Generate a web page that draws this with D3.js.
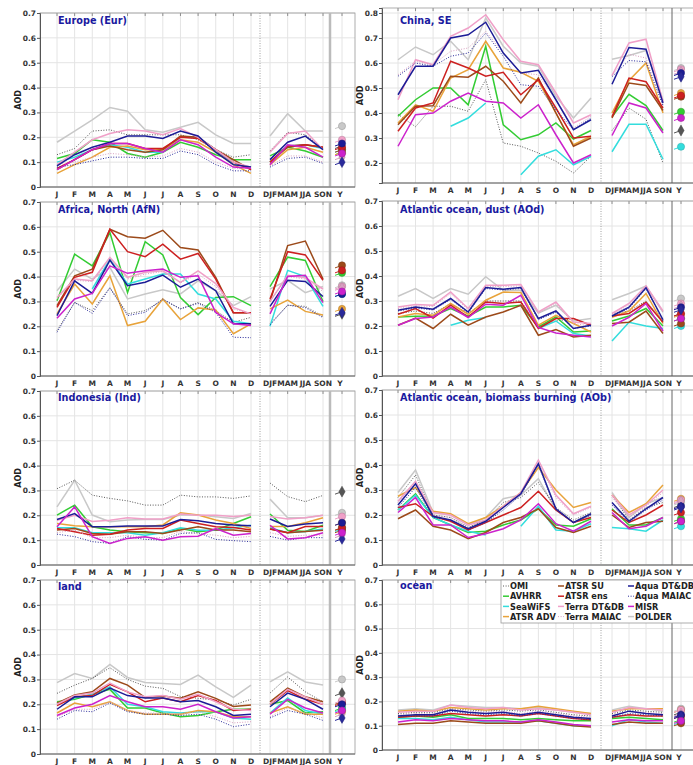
<!DOCTYPE html>
<html>
<head>
<meta charset="utf-8">
<script src="https://cdn.jsdelivr.net/npm/d3@7"></script>
<style>
  body { margin: 0; background: #fff; }
  svg text { font-family: "DejaVu Sans", sans-serif; font-weight: bold; }
</style>
</head>
<body>
<div id="chart"></div>
<script>
var months = ["J","F","M","A","M","J","J","A","S","O","N","D"];
var seasons = ["DJF","MAM","JJA","SON"];
var seriesNames = ["OMI","AVHRR","SeaWiFS","ATSR ADV","ATSR SU","ATSR ens",
  "Terra DT&DB","Terra MAIAC","Aqua DT&DB","Aqua MAIAC","MISR","POLDER"];
var seriesColors = ["#555555","#33cc33","#33dddd","#e8a33a","#9c4a1a","#cc2020",
  "#f0a0c8","#d8a0c0","#1c1c96","#2a2a9a","#cc22cc","#c8c8c8"];
var dottedSeries = ["OMI","Terra MAIAC","Aqua MAIAC"];

// rows follow seriesNames order
var eurMonthly = [
  [0.13,0.155,0.225,0.23,0.21,0.21,0.21,0.21,0.19,0.15,0.12,0.13],
  [0.115,0.135,0.19,0.18,0.135,0.12,0.14,0.18,0.16,0.13,0.11,0.11],
  [0.1,0.12,0.15,0.17,0.16,0.14,0.14,0.2,0.2,0.15,0.09,0.08],
  [0.055,0.09,0.12,0.16,0.165,0.15,0.15,0.19,0.18,0.14,0.09,0.055],
  [0.07,0.11,0.15,0.165,0.15,0.14,0.15,0.205,0.2,0.15,0.11,0.07],
  [0.075,0.11,0.15,0.175,0.175,0.155,0.155,0.2,0.195,0.15,0.1,0.07],
  [0.09,0.14,0.19,0.215,0.23,0.225,0.21,0.235,0.2,0.15,0.1,0.08],
  [0.09,0.1,0.12,0.135,0.13,0.12,0.125,0.155,0.14,0.1,0.075,0.075],
  [0.085,0.13,0.16,0.18,0.205,0.205,0.195,0.225,0.205,0.14,0.09,0.08],
  [0.08,0.09,0.105,0.12,0.12,0.115,0.115,0.145,0.13,0.09,0.065,0.065],
  [0.07,0.11,0.15,0.175,0.175,0.155,0.14,0.19,0.17,0.12,0.08,0.075],
  [0.18,0.225,0.27,0.32,0.305,0.23,0.22,0.24,0.26,0.21,0.175,0.175]
];
var eurSeasonal = [
  [0.145,0.22,0.21,0.155],[0.125,0.16,0.145,0.12],[0.1,0.165,0.17,0.155],
  [0.09,0.15,0.16,0.14],[0.1,0.16,0.17,0.16],[0.1,0.165,0.17,0.16],
  [0.14,0.215,0.225,0.15],[0.085,0.125,0.125,0.1],[0.11,0.18,0.205,0.15],
  [0.08,0.115,0.12,0.095],[0.09,0.17,0.16,0.12],[0.205,0.295,0.225,0.225]
];
var eurAnnual = [0.165,0.14,0.15,0.14,0.15,0.16,0.19,0.12,0.175,0.1,0.135,0.245];

var chnMonthly = [
  [0.395,0.345,0.427,0.427,0.407,0.533,0.28,0.267,0.24,0.207,0.16,0.227],
  [0.387,0.453,0.5,0.5,0.433,0.667,0.353,0.293,0.313,0.36,0.296,0.33],
  [null,null,null,0.347,0.38,0.44,null,0.153,0.227,0.253,0.193,0.227],
  [0.36,0.433,0.407,0.54,0.573,0.687,0.58,0.563,0.527,0.4,0.273,0.307],
  [0.353,0.427,0.429,0.547,0.543,0.587,0.527,0.44,0.54,0.4,0.267,0.3],
  [0.327,0.42,0.44,0.607,0.58,0.547,0.563,0.473,0.533,0.42,0.3,0.307],
  [0.453,0.613,0.593,0.707,0.74,0.793,0.693,0.607,0.593,0.48,0.36,0.393],
  [0.553,0.607,0.593,0.647,0.66,0.727,0.64,0.56,0.553,0.453,0.34,0.387],
  [0.473,0.587,0.587,0.7,0.713,0.763,0.64,0.56,0.571,0.453,0.333,0.373],
  [0.547,0.6,0.587,0.627,0.64,0.72,0.627,0.513,0.507,0.413,0.333,0.38],
  [0.267,0.393,0.4,0.447,0.48,0.447,0.44,0.38,0.433,0.313,0.2,0.233],
  [0.613,0.664,0.633,0.687,0.613,0.78,0.667,0.6,0.587,0.467,0.38,0.46]
];
var chnSeasonal = [
  [0.33,0.42,0.375,0.2],[0.385,0.475,0.43,0.33],[0.245,0.355,0.355,0.215],
  [0.4,0.53,0.6,0.4],[0.38,0.52,0.51,0.41],[0.385,0.54,0.525,0.42],
  [0.55,0.68,0.695,0.445],[0.55,0.635,0.62,0.43],[0.515,0.662,0.655,0.44],
  [0.545,0.61,0.605,0.43],[0.31,0.44,0.42,0.32],[0.615,0.63,0.65,0.45]
];
var chnAnnual = [0.33,0.405,0.265,0.48,0.465,0.47,0.575,0.565,0.56,0.545,0.38,0.58];

var afnMonthly = [
  [0.183,0.296,0.263,0.356,0.25,0.263,0.306,0.27,0.296,0.263,0.216,0.236],
  [0.303,0.49,0.443,0.577,0.336,0.54,0.487,0.316,0.247,0.316,0.319,0.283],
  [null,null,0.35,0.47,0.37,0.39,0.41,0.41,0.33,0.31,0.22,0.21],
  [0.25,0.37,0.29,0.403,0.203,0.22,0.31,0.227,0.274,0.266,0.17,0.21],
  [0.283,0.403,0.43,0.59,0.56,0.554,0.586,0.517,0.507,0.397,0.254,0.254],
  [0.276,0.397,0.417,0.59,0.5,0.48,0.53,0.47,0.493,0.39,0.254,0.254],
  [0.316,0.39,0.383,0.477,0.397,0.417,0.423,0.377,0.423,0.372,0.276,0.25],
  [0.31,0.385,0.38,0.47,0.39,0.41,0.42,0.375,0.41,0.36,0.27,0.25],
  [0.243,0.383,0.332,0.466,0.363,0.377,0.406,0.357,0.39,0.343,0.21,0.21],
  [0.176,0.296,0.252,0.354,0.243,0.256,0.31,0.27,0.292,0.256,0.156,0.154],
  [0.232,0.31,0.332,0.443,0.413,0.423,0.43,0.397,0.403,0.256,0.21,0.203],
  [0.343,0.43,0.39,0.437,0.31,0.33,0.347,0.33,0.383,0.343,0.283,0.319]
];
var afnSeasonal = [
  [0.21,0.285,0.28,0.24],[0.36,0.478,0.465,0.3],[0.2,0.425,0.4,0.28],
  [0.27,0.305,0.26,0.245],[0.3,0.525,0.543,0.39],[0.31,0.5,0.487,0.385],
  [0.3,0.405,0.395,0.35],[0.3,0.4,0.39,0.34],[0.28,0.385,0.38,0.32],
  [0.205,0.285,0.275,0.235],[0.25,0.4,0.405,0.295],[0.35,0.385,0.335,0.36]
];
var afnAnnual = [0.25,0.415,0.33,0.27,0.445,0.425,0.36,0.355,0.33,0.255,0.34,0.365];

var aodMonthly = [
  [0.25,0.26,0.25,0.29,0.25,0.3,0.3,0.3,0.2,0.22,0.23,0.2],
  [0.236,0.239,0.24,0.27,0.239,0.276,0.276,0.283,0.196,0.236,0.176,0.18],
  [null,null,null,0.203,0.223,0.234,null,null,0.19,0.22,0.17,0.16],
  [0.236,0.25,0.243,0.29,0.247,0.303,0.336,0.334,0.203,0.243,0.21,0.176],
  [0.203,0.232,0.19,0.247,0.203,0.236,0.256,0.283,0.163,0.186,0.156,0.163],
  [0.247,0.27,0.232,0.283,0.236,0.296,0.29,0.296,0.19,0.23,0.23,0.203],
  [0.276,0.286,0.283,0.336,0.27,0.363,0.363,0.366,0.256,0.296,0.216,0.21],
  [0.27,0.28,0.278,0.33,0.265,0.358,0.358,0.36,0.25,0.29,0.21,0.2],
  [0.263,0.276,0.267,0.31,0.256,0.354,0.347,0.354,0.23,0.26,0.19,0.203],
  [0.26,0.272,0.264,0.306,0.252,0.35,0.344,0.35,0.225,0.255,0.19,0.2],
  [0.203,0.23,0.236,0.276,0.234,0.287,0.283,0.323,0.194,0.172,0.163,0.156],
  [0.319,0.35,0.31,0.35,0.327,0.397,0.343,0.343,0.252,0.283,0.22,0.23]
];
var aodSeasonal = [
  [0.25,0.26,0.3,0.22],[0.22,0.24,0.27,0.2],[0.14,0.215,0.2,0.19],
  [0.235,0.26,0.33,0.21],[0.21,0.215,0.26,0.17],[0.24,0.25,0.295,0.215],
  [0.25,0.29,0.36,0.26],[0.245,0.285,0.355,0.255],[0.24,0.275,0.353,0.225],
  [0.238,0.27,0.35,0.22],[0.2,0.235,0.29,0.18],[0.305,0.33,0.36,0.255]
];
var aodAnnual = [0.25,0.23,0.2,0.245,0.21,0.25,0.29,0.28,0.275,0.265,0.23,0.31];

var indMonthly = [
  [0.307,0.341,0.281,0.268,0.258,0.241,0.241,0.281,0.274,0.274,0.268,0.278],
  [0.201,0.241,0.154,0.141,0.134,0.13,0.127,0.147,0.134,0.141,0.167,0.194],
  [0.15,0.15,0.13,0.13,0.13,0.12,0.13,0.15,0.14,0.14,0.15,0.16],
  [0.167,0.158,0.154,0.154,0.154,0.154,0.161,0.21,0.201,0.181,0.167,0.147],
  [0.141,0.147,0.127,0.124,0.134,0.134,0.127,0.141,0.154,0.141,0.141,0.134],
  [0.147,0.134,0.12,0.124,0.141,0.147,0.147,0.181,0.167,0.154,0.151,0.141],
  [0.18,0.2,0.175,0.18,0.19,0.185,0.185,0.205,0.2,0.2,0.195,0.2],
  [0.13,0.14,0.11,0.11,0.12,0.11,0.11,0.135,0.125,0.12,0.11,0.115],
  [0.183,0.207,0.154,0.154,0.157,0.157,0.157,0.183,0.178,0.167,0.161,0.158],
  [0.124,0.114,0.094,0.087,0.114,0.103,0.1,0.127,0.13,0.103,0.098,0.094],
  [0.154,0.234,0.114,0.087,0.107,0.114,0.1,0.114,0.116,0.147,0.12,0.127],
  [0.234,0.341,0.201,0.174,0.181,0.183,0.183,0.201,0.201,0.194,0.187,0.207]
];
var indSeasonal = [
  [0.33,0.275,0.255,0.28],[0.205,0.14,0.135,0.16],[0.15,0.13,0.135,0.145],
  [0.155,0.155,0.17,0.19],[0.145,0.13,0.135,0.14],[0.145,0.13,0.155,0.155],
  [0.195,0.185,0.19,0.2],[0.13,0.115,0.12,0.12],[0.185,0.155,0.165,0.17],
  [0.115,0.1,0.11,0.11],[0.16,0.105,0.11,0.13],[0.265,0.19,0.19,0.2]
];
var indAnnual = [0.295,0.15,0.145,0.17,0.14,0.15,0.195,0.12,0.17,0.105,0.13,0.21];

var aobMonthly = [
  [0.27,0.36,0.2,0.19,0.15,0.18,0.25,0.27,0.33,0.23,0.18,0.21],
  [0.22,0.285,0.19,0.16,0.13,0.135,0.16,0.18,0.225,0.16,0.155,0.185],
  [0.22,0.28,0.19,0.16,0.135,0.12,null,0.155,0.235,0.14,0.135,0.165],
  [0.275,0.31,0.215,0.205,0.165,0.19,0.235,0.29,0.39,0.3,0.23,0.25],
  [0.185,0.22,0.155,0.14,0.105,0.13,0.17,0.19,0.225,0.15,0.13,0.155],
  [0.23,0.245,0.195,0.175,0.14,0.17,0.2,0.23,0.295,0.22,0.17,0.19],
  [0.255,0.335,0.21,0.2,0.16,0.18,0.235,0.29,0.42,0.28,0.205,0.235],
  [0.25,0.33,0.2,0.19,0.155,0.18,0.23,0.29,0.41,0.27,0.2,0.23],
  [0.24,0.325,0.195,0.18,0.145,0.175,0.23,0.285,0.405,0.225,0.17,0.205],
  [0.23,0.31,0.19,0.18,0.14,0.17,0.22,0.28,0.4,0.22,0.17,0.2],
  [0.21,0.27,0.16,0.16,0.11,0.125,0.145,0.18,0.245,0.165,0.135,0.175],
  [0.29,0.38,0.21,0.2,0.16,0.19,0.265,0.28,0.345,0.22,0.17,0.2]
];
var aobSeasonal = [
  [0.28,0.18,0.23,0.25],[0.225,0.16,0.16,0.19],[0.15,0.145,0.135,0.18],
  [0.28,0.21,0.245,0.32],[0.2,0.15,0.17,0.175],[0.22,0.17,0.2,0.24],
  [0.28,0.2,0.24,0.3],[0.27,0.19,0.235,0.29],[0.25,0.175,0.225,0.27],
  [0.24,0.17,0.22,0.26],[0.21,0.145,0.155,0.19],[0.29,0.19,0.245,0.27]
];
var aobAnnual = [0.24,0.185,0.155,0.265,0.175,0.21,0.26,0.255,0.235,0.23,0.175,0.25];

var lndMonthly = [
  [0.244,0.277,0.304,0.347,0.3,0.273,0.264,0.231,0.224,0.217,0.197,0.22],
  [0.21,0.22,0.24,0.26,0.185,0.185,0.165,0.15,0.155,0.17,0.18,0.18],
  [0.2,0.225,0.24,0.27,0.2,0.19,0.17,0.165,0.17,0.17,0.145,0.14],
  [0.165,0.205,0.19,0.21,0.175,0.16,0.16,0.16,0.175,0.17,0.15,0.15],
  [0.204,0.237,0.25,0.304,0.277,0.227,0.233,0.224,0.25,0.224,0.191,0.197],
  [0.195,0.23,0.235,0.28,0.25,0.21,0.225,0.21,0.235,0.215,0.175,0.18],
  [0.2,0.235,0.245,0.285,0.25,0.23,0.235,0.22,0.24,0.21,0.18,0.175],
  [0.15,0.18,0.18,0.21,0.175,0.165,0.165,0.16,0.17,0.15,0.125,0.13],
  [0.18,0.23,0.23,0.265,0.235,0.225,0.225,0.21,0.215,0.19,0.155,0.16],
  [0.14,0.175,0.17,0.205,0.17,0.16,0.16,0.155,0.16,0.14,0.11,0.12],
  [0.155,0.185,0.2,0.235,0.21,0.19,0.19,0.18,0.2,0.17,0.145,0.15],
  [0.287,0.324,0.304,0.36,0.308,0.288,0.284,0.28,0.317,0.27,0.228,0.277]
];
var lndSeasonal = [
  [0.245,0.31,0.25,0.21],[0.2,0.215,0.165,0.17],[0.165,0.225,0.175,0.16],
  [0.165,0.19,0.16,0.16],[0.21,0.265,0.23,0.21],[0.2,0.255,0.22,0.2],
  [0.2,0.26,0.23,0.2],[0.15,0.185,0.165,0.145],[0.19,0.245,0.22,0.18],
  [0.145,0.175,0.16,0.135],[0.16,0.22,0.185,0.165],[0.29,0.33,0.29,0.278]
];
var lndAnnual = [0.245,0.185,0.18,0.17,0.21,0.205,0.215,0.16,0.2,0.145,0.175,0.3];

var ocnMonthly = [
  [0.15,0.155,0.155,0.17,0.165,0.16,0.165,0.16,0.165,0.155,0.145,0.14],
  [0.135,0.14,0.135,0.145,0.13,0.13,0.13,0.125,0.13,0.125,0.12,0.12],
  [0.13,0.13,0.125,0.135,0.125,0.115,0.115,0.115,0.12,0.11,0.1,0.1],
  [0.16,0.165,0.16,0.175,0.17,0.165,0.17,0.17,0.18,0.17,0.16,0.15],
  [0.105,0.11,0.11,0.12,0.115,0.11,0.11,0.11,0.12,0.11,0.1,0.095],
  [0.135,0.14,0.14,0.15,0.145,0.14,0.145,0.14,0.15,0.14,0.13,0.125],
  [0.155,0.16,0.16,0.185,0.175,0.17,0.175,0.165,0.17,0.165,0.155,0.145],
  [0.145,0.15,0.15,0.17,0.16,0.155,0.16,0.15,0.16,0.15,0.14,0.135],
  [0.14,0.145,0.145,0.165,0.155,0.15,0.155,0.145,0.155,0.145,0.135,0.13],
  [0.14,0.14,0.14,0.16,0.15,0.145,0.15,0.14,0.15,0.14,0.13,0.125],
  [0.115,0.125,0.12,0.13,0.125,0.12,0.12,0.115,0.125,0.115,0.105,0.1],
  [0.165,0.17,0.165,0.185,0.18,0.175,0.175,0.17,0.175,0.165,0.155,0.15]
];
var ocnSeasonal = [
  [0.15,0.165,0.16,0.155],[0.13,0.135,0.13,0.125],[0.1,0.125,0.115,0.11],
  [0.16,0.17,0.17,0.17],[0.105,0.115,0.11,0.11],[0.135,0.145,0.14,0.14],
  [0.155,0.175,0.17,0.165],[0.145,0.16,0.155,0.15],[0.14,0.16,0.15,0.145],
  [0.135,0.15,0.145,0.14],[0.115,0.125,0.12,0.12],[0.165,0.18,0.17,0.16]
];
var ocnAnnual = [0.155,0.125,0.115,0.165,0.11,0.14,0.165,0.15,0.145,0.14,0.12,0.17];

var width = 693, height = 765;

// horizontal layout of the two columns
var cols = [
  {axisX: 40, m0: 57, m1: 251, sep: 260, s0: 270, s1: 323, ysep: 330, yx: 342, right: 355, ysepColor: "#bbb", ysepW: 2.5},
  {axisX: 382, m0: 398, m1: 591, sep: 601, s0: 612, s1: 663, ysep: 672, yx: 681, right: 700, ysepColor: "#666", ysepW: 1}
];

var panels = [
  {title: "Europe (Eur)", monthly: eurMonthly, seasonal: eurSeasonal, annual: eurAnnual, col: 0, top: 13, bottom: 187, titleY: 24, domain: [0, 0.7]},
  {title: "China, SE", monthly: chnMonthly, seasonal: chnSeasonal, annual: chnAnnual, col: 1, top: 8, bottom: 183, titleY: 24, domain: [0.12, 0.82]},
  {title: "Africa, North (AfN)", monthly: afnMonthly, seasonal: afnSeasonal, annual: afnAnnual, col: 0, top: 202, bottom: 376, titleY: 213, domain: [0, 0.7]},
  {title: "Atlantic ocean, dust (AOd)", monthly: aodMonthly, seasonal: aodSeasonal, annual: aodAnnual, col: 1, top: 201, bottom: 376, titleY: 213, domain: [0, 0.7]},
  {title: "Indonesia (Ind)", monthly: indMonthly, seasonal: indSeasonal, annual: indAnnual, col: 0, top: 391, bottom: 565, titleY: 401, domain: [0, 0.7]},
  {title: "Atlantic ocean, biomass burning (AOb)", monthly: aobMonthly, seasonal: aobSeasonal, annual: aobAnnual, col: 1, top: 390, bottom: 565, titleY: 401, domain: [0, 0.7]},
  {title: "land", monthly: lndMonthly, seasonal: lndSeasonal, annual: lndAnnual, col: 0, top: 580, bottom: 754, titleY: 590, domain: [0, 0.7]},
  {title: "ocean", monthly: ocnMonthly, seasonal: ocnSeasonal, annual: ocnAnnual, col: 1, top: 580, bottom: 750, titleY: 589, domain: [0, 0.7]}
];

var svg = d3.select("#chart").append("svg")
  .attr("width", width)
  .attr("height", height);

// draw POLDER first so it sits behind
var drawOrder = [11,0,1,2,3,4,5,6,7,8,9,10];

function dashOf(name){
  return dottedSeries.indexOf(name) >= 0 ? "1,1.6" : null;
}

panels.forEach(function(p){
  var c = cols[p.col];
  var g = svg.append("g");

  var y = d3.scaleLinear().domain(p.domain).range([p.bottom, p.top]);
  var xm = d3.scalePoint().domain(d3.range(12)).range([c.m0, c.m1]);
  var xs = d3.scalePoint().domain(seasons).range([c.s0, c.s1]);

  var tickVals = d3.range(Math.ceil(p.domain[0] * 10 - 1e-6), Math.floor(p.domain[1] * 10 + 1e-6) + 1).map(d => d / 10);

  // grid
  var xPos = d3.range(12).map(xm).concat(seasons.map(xs)).concat([c.yx]);
  g.selectAll("line.vgrid").data(xPos).enter().append("line")
    .attr("x1", d => d).attr("x2", d => d)
    .attr("y1", p.top).attr("y2", p.bottom)
    .attr("stroke", "#e4e4e4").attr("stroke-width", 1);
  g.selectAll("line.hgrid").data(tickVals).enter().append("line")
    .attr("x1", c.axisX).attr("x2", c.right)
    .attr("y1", d => y(d)).attr("y2", d => y(d))
    .attr("stroke", "#e4e4e4").attr("stroke-width", 1);

  // top ticks
  g.selectAll("line.tt").data(xPos).enter().append("line")
    .attr("x1", d => d).attr("x2", d => d)
    .attr("y1", p.top).attr("y2", p.top + 3)
    .attr("stroke", "#777").attr("stroke-width", 0.8);

  // frame
  g.append("rect")
    .attr("x", c.axisX).attr("y", p.top)
    .attr("width", c.right - c.axisX).attr("height", p.bottom - p.top)
    .attr("fill", "none").attr("stroke", "#999").attr("stroke-width", 0.8);

  // separators
  g.append("line")
    .attr("x1", c.sep).attr("x2", c.sep).attr("y1", p.top).attr("y2", p.bottom)
    .attr("stroke", "#888").attr("stroke-width", 0.8).attr("stroke-dasharray", "1,1.5");
  g.append("line")
    .attr("x1", c.ysep).attr("x2", c.ysep).attr("y1", p.top).attr("y2", p.bottom)
    .attr("stroke", c.ysepColor).attr("stroke-width", c.ysepW);

  // y axis
  var yAxis = d3.axisLeft(y).tickValues(tickVals).tickSize(3)
    .tickFormat(d => d === 0 ? "0" : d3.format(".1f")(d));
  var ya = g.append("g").attr("transform", "translate(" + c.axisX + ",0)").call(yAxis);
  ya.select(".domain").attr("stroke", "#555");
  ya.selectAll(".tick line").attr("stroke", "#555");
  ya.selectAll(".tick text").attr("font-size", 7.5).attr("fill", "#333").attr("x", -4)
    .style("font-family", "DejaVu Sans").style("font-weight", "bold");

  // bottom line
  g.append("line")
    .attr("x1", c.axisX).attr("x2", c.right).attr("y1", p.bottom).attr("y2", p.bottom)
    .attr("stroke", "#555").attr("stroke-width", 0.8);

  g.append("text")
    .attr("transform", "translate(" + (c.axisX - 19) + "," + ((p.top + p.bottom) / 2) + ") rotate(-90)")
    .attr("text-anchor", "middle").attr("font-size", 8).attr("fill", "#222")
    .text("AOD");

  // x labels
  var xl = g.append("g").attr("font-size", 7.5).attr("fill", "#333").attr("text-anchor", "middle");
  months.forEach(function(m, i){
    xl.append("text").attr("x", xm(i)).attr("y", p.bottom + 10).text(m);
  });
  seasons.forEach(function(s){
    xl.append("text").attr("x", xs(s)).attr("y", p.bottom + 10).text(s);
  });
  xl.append("text").attr("x", c.yx - 2).attr("y", p.bottom + 10).text("Y");

  // lines
  var lineM = d3.line().defined(d => d != null).x((d, i) => xm(i)).y(d => y(d));
  var lineS = d3.line().defined(d => d != null).x((d, i) => xs(seasons[i])).y(d => y(d));

  drawOrder.forEach(function(k){
    var name = seriesNames[k];
    var dotted = dottedSeries.indexOf(name) >= 0;
    [[p.monthly[k], lineM], [p.seasonal[k], lineS]].forEach(function(pair){
      g.append("path")
        .attr("d", pair[1](pair[0]))
        .attr("fill", "none")
        .attr("stroke", seriesColors[k])
        .attr("stroke-width", dotted ? 1 : 1.5)
        .attr("stroke-dasharray", dashOf(name));
    });
  });

  // annual markers
  drawOrder.forEach(function(k){
    var v = p.annual[k];
    if (v == null) return;
    var name = seriesNames[k];
    var col = seriesColors[k];
    var yy = y(v);
    g.append("line")
      .attr("x1", c.yx - 7).attr("x2", c.yx).attr("y1", yy + 2.5).attr("y2", yy)
      .attr("stroke", col).attr("stroke-width", 1);
    if (dottedSeries.indexOf(name) >= 0) {
      g.append("path")
        .attr("d", d3.symbol(d3.symbolDiamond, 34)())
        .attr("transform", "translate(" + c.yx + "," + yy + ")")
        .attr("fill", col).attr("stroke", d3.color(col).darker(0.6)).attr("stroke-width", 0.5);
    } else {
      g.append("circle")
        .attr("cx", c.yx).attr("cy", yy).attr("r", 3.6)
        .attr("fill", col).attr("stroke", d3.color(col).darker(0.8)).attr("stroke-width", 0.5);
    }
  });

  // title
  g.append("text")
    .attr("x", c.axisX + 18).attr("y", p.titleY)
    .attr("font-size", 9.7).attr("fill", "#1a1aa0")
    .text(p.title);
});

// legend in the ocean panel
var leg = svg.append("g");
leg.append("rect")
  .attr("x", 501).attr("y", 580).attr("width", 200).attr("height", 43)
  .attr("fill", "#fff").attr("stroke", "#999").attr("stroke-width", 0.8);
var legCols = [501, 556, 626];
seriesNames.forEach(function(name, i){
  var cx = legCols[Math.floor(i / 4)];
  var cy = 586 + (i % 4) * 10.2;
  leg.append("line")
    .attr("x1", cx + 2).attr("x2", cx + 8).attr("y1", cy).attr("y2", cy)
    .attr("stroke", seriesColors[i]).attr("stroke-width", dottedSeries.indexOf(name) >= 0 ? 1 : 1.5)
    .attr("stroke-dasharray", dashOf(name));
  leg.append("text")
    .attr("x", cx + 9).attr("y", cy + 3.2)
    .attr("font-size", 8.2).attr("fill", "#222")
    .text(name);
});
</script>
</body>
</html>
